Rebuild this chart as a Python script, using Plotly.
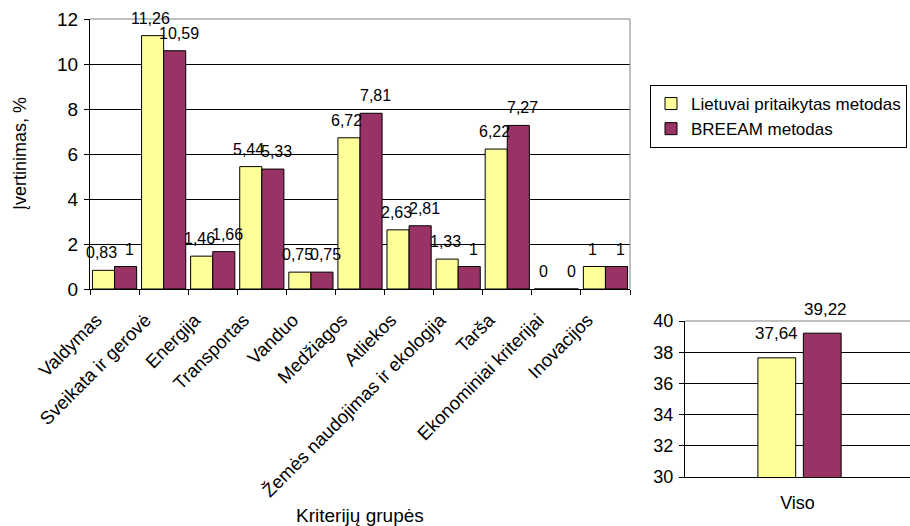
import plotly.graph_objects as go

# Canvas size (px)
W, H = 910, 526

# ---- data ----
categories = [
    "Valdymas", "Sveikata ir gerovė", "Energija", "Transportas", "Vanduo",
    "Medžiagos", "Atliekos", "Žemės naudojimas ir ekologija", "Tarša",
    "Ekonominiai kriterijai", "Inovacijos",
]
lt_values = [0.83, 11.26, 1.46, 5.44, 0.75, 6.72, 2.63, 1.33, 6.22, 0, 1]
breeam_values = [1, 10.59, 1.66, 5.33, 0.75, 7.81, 2.81, 1, 7.27, 0, 1]

total_category = ["Viso"]
lt_total = [37.64]
breeam_total = [39.22]

series_names = ["Lietuvai pritaikytas metodas", "BREEAM metodas"]
y_title = "Įvertinimas, %"
x_title = "Kriterijų grupės"

# ---- styling ----
FONT = "Liberation Sans, Arial, sans-serif"
YELLOW = "#FFFF99"
PURPLE = "#993366"
BORDER_GREY = "#808080"

# plot-area frames in pixels (left, right, top, bottom)
MAIN = (90, 630, 19, 289)
INSET = (685, 910, 321, 477)


def px(x):
    return x / W


def py(y):
    return 1 - y / H


def fmt(v):
    return f"{v:g}".replace(".", ",")


fig = go.Figure()

for name, vals, color in [(series_names[0], lt_values, YELLOW),
                          (series_names[1], breeam_values, PURPLE)]:
    fig.add_trace(go.Bar(
        x=categories, y=vals, name=name,
        marker=dict(color=color, line=dict(color="black", width=1)),
        xaxis="x", yaxis="y",
    ))

# summary panel: two separated bars
for vals, color, off in [(lt_total, YELLOW, -0.176), (breeam_total, PURPLE, 0.026)]:
    fig.add_trace(go.Bar(
        x=total_category, y=vals, showlegend=False,
        width=0.168, offset=off,
        marker=dict(color=color, line=dict(color="black", width=1)),
        xaxis="x2", yaxis="y2",
    ))

annotations = []
# value labels on main chart
half = 0.225  # half of a bar's width in category units (bargap 0.1)
for i, (a, b) in enumerate(zip(lt_values, breeam_values)):
    annotations.append(dict(x=i - half, y=a, xref="x", yref="y", text=fmt(a),
                            showarrow=False, yanchor="bottom", yshift=7, xshift=-2,
                            font=dict(size=16)))
    annotations.append(dict(x=i + half, y=b, xref="x", yref="y", text=fmt(b),
                            showarrow=False, yanchor="bottom", yshift=7, xshift=4,
                            font=dict(size=16)))

# value labels on summary panel
annotations.append(dict(x=-0.176 + 0.084, y=lt_total[0], xref="x2", yref="y2",
                        text=fmt(lt_total[0]), showarrow=False, yanchor="bottom",
                        yshift=13, font=dict(size=17)))
annotations.append(dict(x=0.026 + 0.084, y=breeam_total[0], xref="x2", yref="y2",
                        text=fmt(breeam_total[0]), showarrow=False, yanchor="bottom",
                        yshift=12, xshift=3, font=dict(size=17)))

# axis titles
annotations.append(dict(x=px(20), y=py((MAIN[2] + MAIN[3]) / 2), xref="paper", yref="paper",
                        text=y_title, textangle=-90, showarrow=False,
                        xanchor="center", yanchor="middle", font=dict(size=18)))
annotations.append(dict(x=px(360), y=py(515), xref="paper", yref="paper",
                        text=x_title, showarrow=False,
                        xanchor="center", yanchor="middle", font=dict(size=19)))

shapes = [
    # grey plot-area border (top and right) of the main chart
    dict(type="line", xref="paper", yref="paper", x0=px(MAIN[0]), x1=px(MAIN[1]),
         y0=py(MAIN[2]), y1=py(MAIN[2]), line=dict(color=BORDER_GREY, width=1)),
    dict(type="line", xref="paper", yref="paper", x0=px(MAIN[1]), x1=px(MAIN[1]),
         y0=py(MAIN[2]), y1=py(MAIN[3]), line=dict(color=BORDER_GREY, width=1)),
    # grey top border of the summary panel
    dict(type="line", xref="paper", yref="paper", x0=px(INSET[0]), x1=px(INSET[1]),
         y0=py(INSET[2]), y1=py(INSET[2]), line=dict(color=BORDER_GREY, width=1)),
]

fig.update_layout(
    width=W, height=H,
    margin=dict(l=0, r=0, t=0, b=0),
    paper_bgcolor="white", plot_bgcolor="white",
    font=dict(family=FONT, color="black", size=17),
    barmode="group", bargap=0.1, bargroupgap=0,
    xaxis=dict(
        domain=[px(MAIN[0]), px(MAIN[1])], anchor="y", type="category",
        range=[-0.5, len(categories) - 0.5],
        tickson="boundaries", ticks="outside", ticklen=5, tickcolor="black",
        showline=True, linecolor="black", linewidth=1, showgrid=False,
        tickangle=-45, tickfont=dict(size=18.5), automargin=False,
        ticklabelshift=-18, ticklabelstandoff=12,
    ),
    yaxis=dict(
        domain=[py(MAIN[3]), py(MAIN[2])], anchor="x",
        range=[0, 12], dtick=2, ticks="outside", ticklen=5, tickcolor="black",
        showline=True, linecolor="black", linewidth=1,
        showgrid=True, gridcolor="black", gridwidth=1, zeroline=False,
        tickfont=dict(size=19), automargin=False, ticklabelstandoff=2,
    ),
    xaxis2=dict(
        domain=[px(INSET[0]), px(INSET[1])], anchor="y2", type="category",
        range=[-0.5, 0.5], ticks="", showline=True, linecolor="black", linewidth=1,
        showgrid=False, tickfont=dict(size=18), automargin=False, ticklabelstandoff=9,
    ),
    yaxis2=dict(
        domain=[py(INSET[3]), py(INSET[2])], anchor="x2",
        range=[30, 40], dtick=2, ticks="outside", ticklen=5, tickcolor="black",
        showline=True, linecolor="black", linewidth=1,
        showgrid=True, gridcolor="black", gridwidth=1, zeroline=False,
        tickfont=dict(size=18), automargin=False, ticklabelstandoff=2,
    ),
    legend=dict(
        x=px(650), y=py(85), xanchor="left", yanchor="top",
        bgcolor="white", bordercolor="black", borderwidth=1,
        font=dict(size=17), itemwidth=30, tracegroupgap=0,
    ),
    annotations=annotations,
    shapes=shapes,
    showlegend=True,
)

fig.write_html("out.html")
